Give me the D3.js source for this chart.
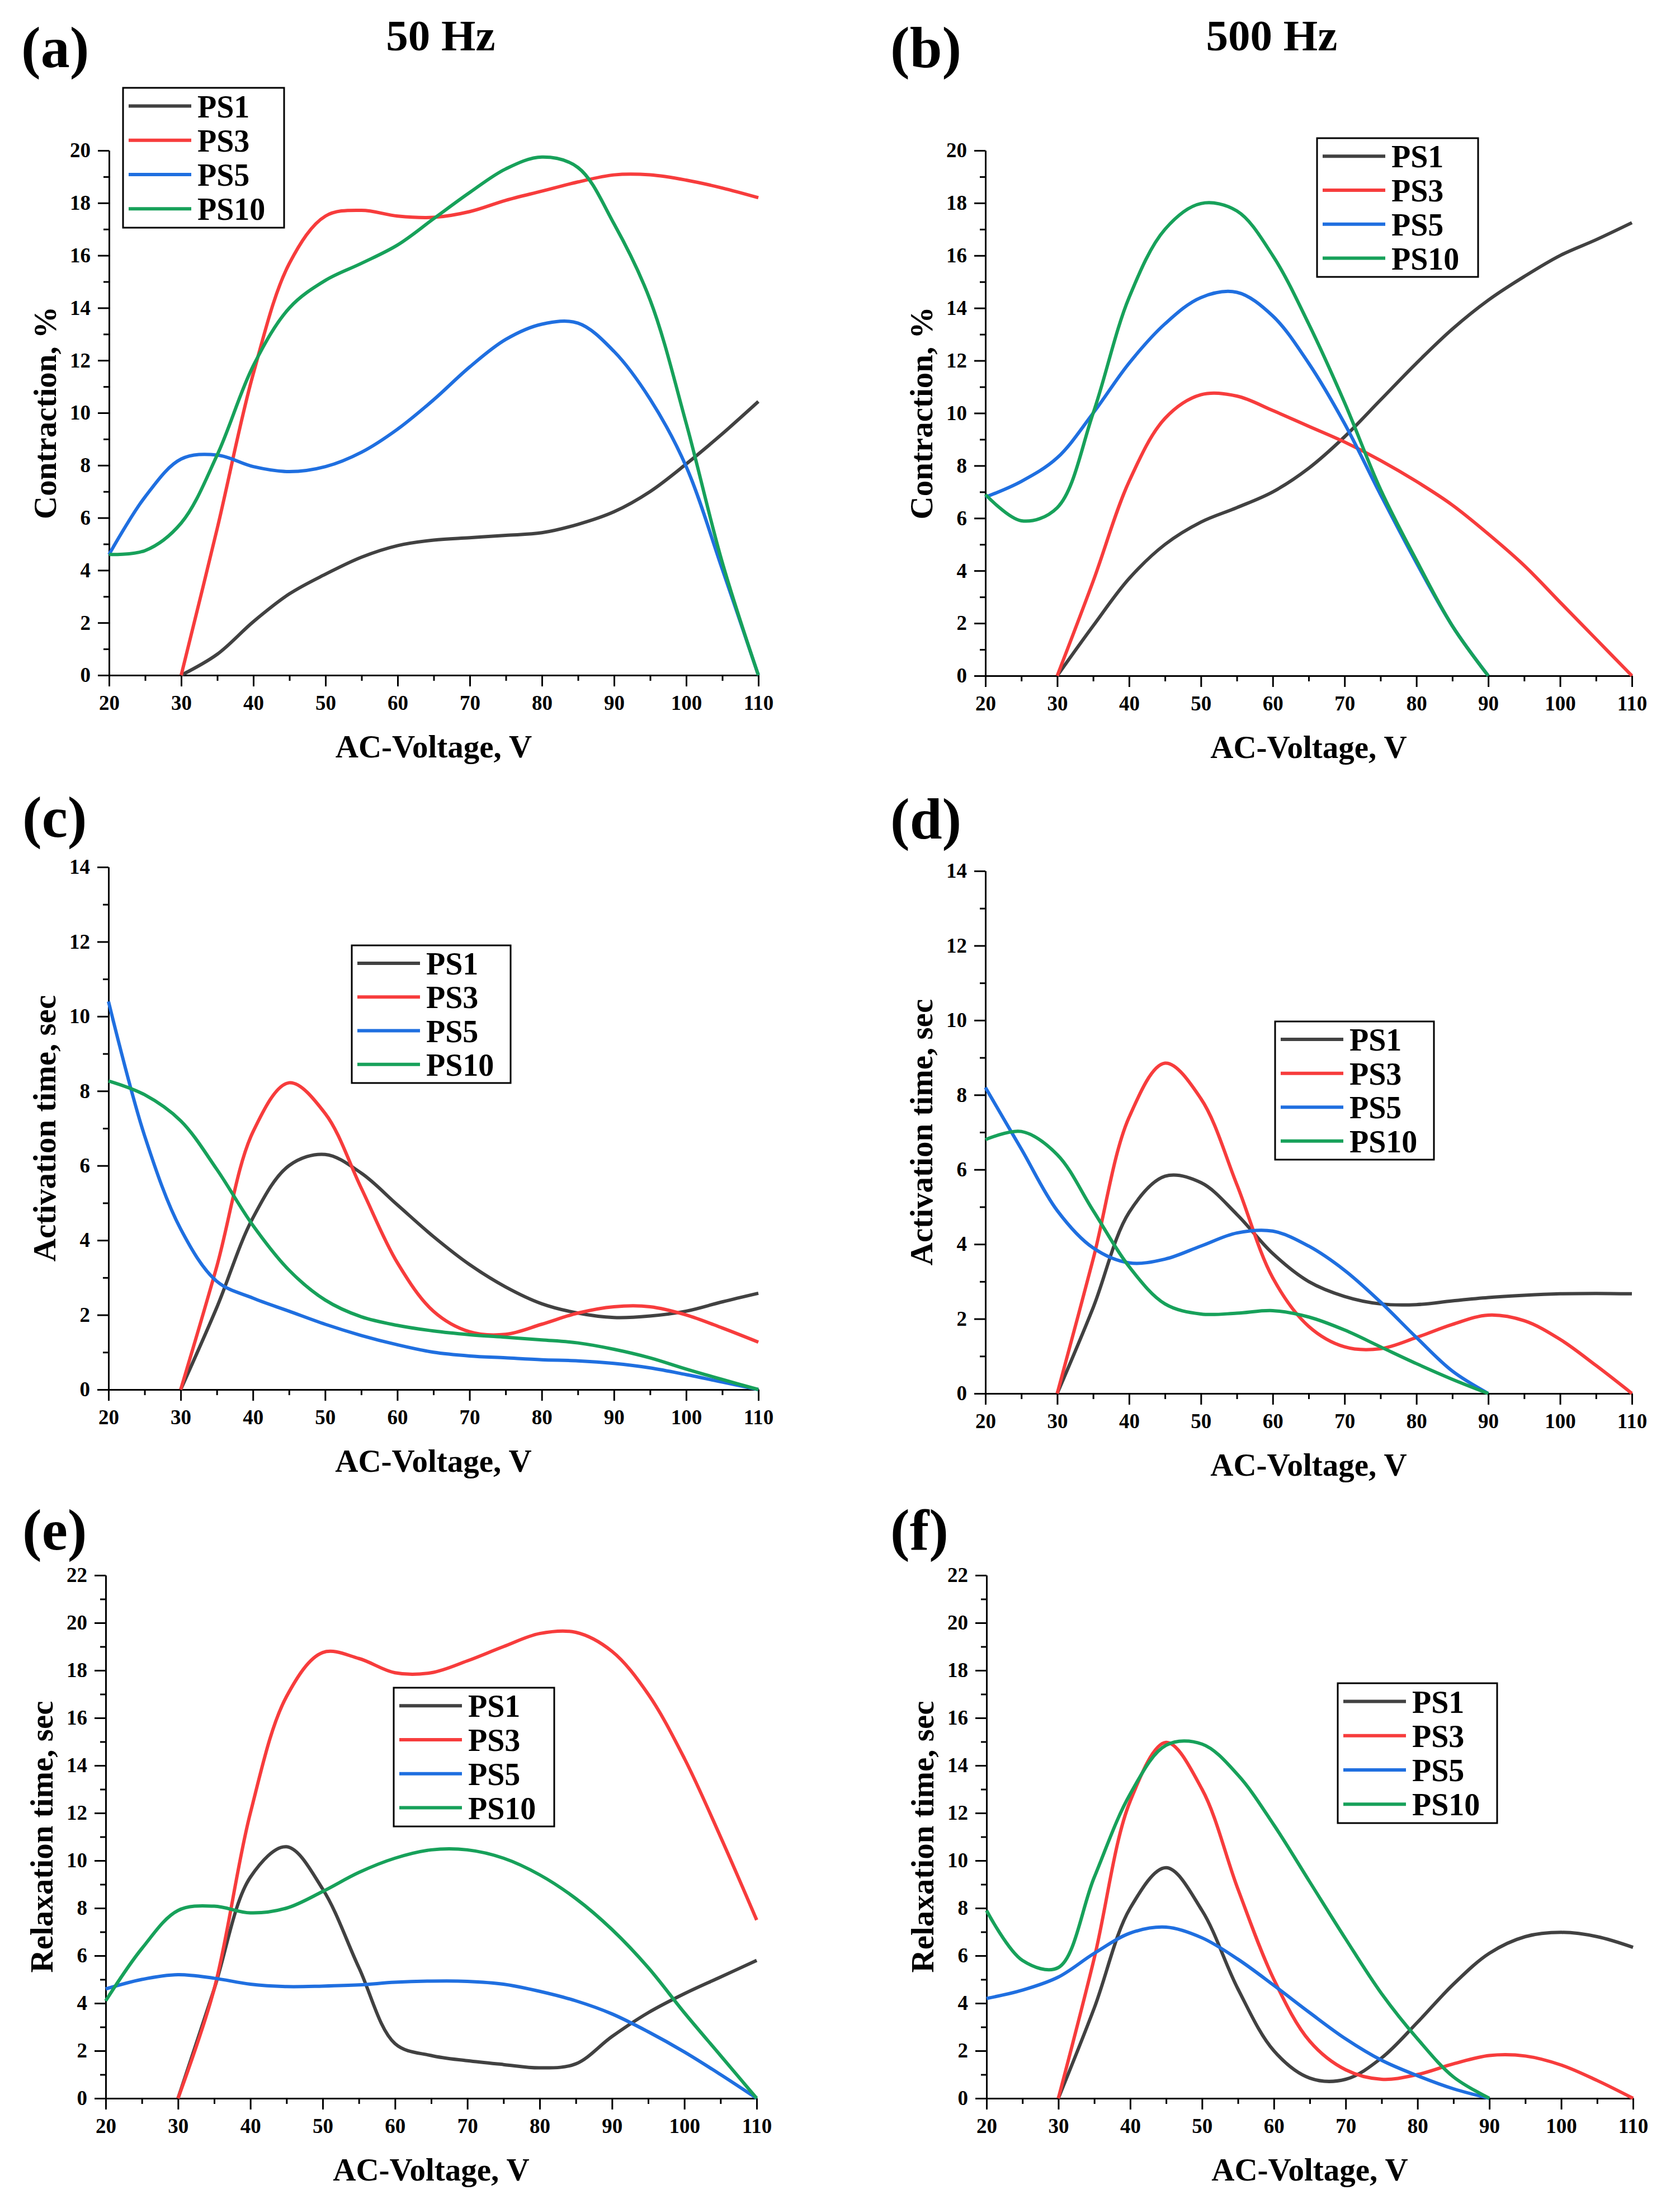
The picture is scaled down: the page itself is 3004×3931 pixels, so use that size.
<!DOCTYPE html>
<html>
<head>
  <meta charset="UTF-8"/>
  <title>PS samples vs AC-Voltage</title>
  <script src="https://cdn.jsdelivr.net/npm/d3@7"></script>
  <style>
    body { margin: 0; background: #fff; }
    svg text {
      font-family: 'Liberation Serif', 'Times New Roman', serif;
      font-weight: bold;
      fill: #000;
    }
    .axis path, .axis line { stroke: #000; stroke-width: 3; }
    .axis text { font-size: 37px; }
    .tag { font-size: 104px; }
    .title { font-size: 79px; }
    .label { font-size: 57px; }
    .legend text { font-size: 56px; }
  </style>
</head>
<body>
<svg id="chart" width="3004" height="3931"></svg>
<script>
var voltage = [20, 25, 30, 35, 40, 45, 50, 55, 60, 65, 70, 75, 80, 85, 90, 95, 100, 105, 110];

var seriesNames = ["PS1", "PS3", "PS5", "PS10"];
var seriesColors = ["#414141", "#f73c3c", "#1f6fe0", "#17a15a"];

var majorX = [20, 30, 40, 50, 60, 70, 80, 90, 100, 110];
var minorX = [25, 35, 45, 55, 65, 75, 85, 95, 105];

// (a) contraction, 50 Hz
var contr50_PS1 = [null, null, 0, 0.8, 2.04, 3.1, 3.85, 4.5, 4.94, 5.15, 5.24, 5.33, 5.43, 5.75, 6.23, 7.0, 8.05, 9.2, 10.43];
var contr50_PS3 = [null, null, 0, 5.6, 11.5, 15.7, 17.5, 17.72, 17.5, 17.45, 17.67, 18.1, 18.45, 18.8, 19.07, 19.07, 18.87, 18.57, 18.2];
var contr50_PS5 = [4.6, 6.8, 8.24, 8.39, 7.95, 7.76, 7.95, 8.5, 9.38, 10.5, 11.75, 12.8, 13.38, 13.42, 12.34, 10.52, 7.95, 4.04, 0];
var contr50_PS10 = [4.6, 4.75, 5.8, 8.4, 11.8, 14.0, 15.05, 15.7, 16.4, 17.4, 18.4, 19.3, 19.75, 19.35, 17.2, 14.3, 9.6, 4.3, 0];

// (b) contraction, 500 Hz
var contr500_PS1 = [null, null, 0, 1.9, 3.7, 5.0, 5.85, 6.4, 7.0, 7.9, 9.1, 10.5, 11.9, 13.2, 14.3, 15.2, 16.0, 16.6, 17.25];
var contr500_PS3 = [null, null, 0, 3.6, 7.4, 9.8, 10.7, 10.65, 10.1, 9.5, 8.9, 8.2, 7.4, 6.5, 5.4, 4.2, 2.8, 1.4, 0];
var contr500_PS5 = [6.8, 7.4, 8.3, 10.0, 11.9, 13.4, 14.4, 14.6, 13.7, 11.9, 9.6, 6.9, 4.3, 1.9, 0, null, null, null, null];
var contr500_PS10 = [6.9, 5.9, 6.4, 10.0, 14.4, 17.0, 17.98, 17.7, 16.0, 13.4, 10.4, 7.1, 4.4, 1.9, 0, null, null, null, null];

// (c) activation time, 50 Hz
var act50_PS1 = [null, null, 0, 2.2, 4.6, 6.0, 6.3, 5.8, 4.95, 4.1, 3.35, 2.75, 2.3, 2.05, 1.93, 1.97, 2.1, 2.35, 2.58];
var act50_PS3 = [null, null, 0, 3.3, 6.9, 8.22, 7.4, 5.4, 3.4, 2.1, 1.55, 1.48, 1.75, 2.05, 2.22, 2.22, 2.0, 1.65, 1.27];
var act50_PS5 = [10.4, 6.8, 4.3, 2.9, 2.45, 2.1, 1.75, 1.45, 1.2, 1.0, 0.9, 0.85, 0.8, 0.77, 0.7, 0.58, 0.4, 0.2, 0];
var act50_PS10 = [8.27, 7.9, 7.2, 5.9, 4.4, 3.2, 2.4, 1.95, 1.72, 1.57, 1.47, 1.4, 1.33, 1.25, 1.08, 0.85, 0.55, 0.27, 0];

// (d) activation time, 500 Hz
var act500_PS1 = [null, null, 0, 2.3, 4.85, 5.82, 5.65, 4.8, 3.75, 3.0, 2.6, 2.4, 2.38, 2.48, 2.57, 2.63, 2.67, 2.68, 2.67];
var act500_PS3 = [null, null, 0, 3.6, 7.4, 8.85, 7.9, 5.6, 3.1, 1.8, 1.25, 1.2, 1.5, 1.85, 2.1, 1.95, 1.45, 0.75, 0];
var act500_PS5 = [8.2, 6.55, 4.9, 3.9, 3.5, 3.6, 3.95, 4.3, 4.35, 3.95, 3.3, 2.45, 1.5, 0.6, 0, null, null, null, null];
var act500_PS10 = [6.8, 7.02, 6.4, 4.9, 3.4, 2.4, 2.13, 2.15, 2.22, 2.05, 1.7, 1.25, 0.8, 0.38, 0, null, null, null, null];

// (e) relaxation time, 50 Hz
var rel50_PS1 = [null, null, 0, 4.6, 9.3, 10.58, 8.8, 5.5, 2.3, 1.8, 1.58, 1.42, 1.28, 1.45, 2.6, 3.6, 4.4, 5.1, 5.8];
var rel50_PS3 = [null, null, 0, 4.6, 12.0, 16.9, 18.75, 18.5, 17.9, 17.9, 18.4, 19.0, 19.55, 19.6, 18.8, 17.0, 14.3, 11.0, 7.5];
var rel50_PS5 = [4.6, 5.0, 5.2, 5.05, 4.8, 4.7, 4.72, 4.77, 4.88, 4.93, 4.92, 4.8, 4.5, 4.1, 3.55, 2.8, 1.95, 1.0, 0];
var rel50_PS10 = [4.1, 6.3, 7.9, 8.08, 7.8, 8.0, 8.7, 9.5, 10.1, 10.45, 10.45, 10.1, 9.4, 8.4, 7.1, 5.5, 3.6, 1.8, 0];

// (f) relaxation time, 500 Hz
var rel500_PS1 = [null, null, 0, 3.8, 8.0, 9.7, 7.9, 4.6, 2.0, 0.85, 0.8, 1.7, 3.2, 4.8, 6.1, 6.8, 6.98, 6.8, 6.35];
var rel500_PS3 = [null, null, 0, 5.9, 12.5, 14.97, 13.0, 8.8, 5.0, 2.4, 1.2, 0.8, 1.0, 1.45, 1.8, 1.78, 1.4, 0.75, 0];
var rel500_PS5 = [4.2, 4.55, 5.1, 6.1, 6.95, 7.2, 6.75, 5.85, 4.75, 3.6, 2.5, 1.6, 0.95, 0.4, 0, null, null, null, null];
var rel500_PS10 = [7.9, 5.8, 5.5, 9.3, 12.8, 14.85, 14.9, 13.6, 11.5, 9.1, 6.7, 4.4, 2.5, 0.9, 0, null, null, null, null];

var panels = [
  { tag: "(a)", tagX: 38, tagY: 120, title: "50 Hz", titleX: 788,
    ylabel: "Contraction, %", ymax: 20,
    left: 195, right: 1356, top: 269, bottom: 1207, legend: [220, 157, 288, 250],
    series: [contr50_PS1, contr50_PS3, contr50_PS5, contr50_PS10] },
  { tag: "(b)", tagX: 1592, tagY: 120, title: "500 Hz", titleX: 2274,
    ylabel: "Contraction, %", ymax: 20,
    left: 1762, right: 2918, top: 269, bottom: 1208, legend: [2355, 247, 288, 248],
    series: [contr500_PS1, contr500_PS3, contr500_PS5, contr500_PS10] },
  { tag: "(c)", tagX: 40, tagY: 1496,
    ylabel: "Activation time, sec", ymax: 14,
    left: 194, right: 1356, top: 1550, bottom: 2484, legend: [629, 1690, 284, 246],
    series: [act50_PS1, act50_PS3, act50_PS5, act50_PS10] },
  { tag: "(d)", tagX: 1592, tagY: 1499,
    ylabel: "Activation time, sec", ymax: 14,
    left: 1762, right: 2918, top: 1557, bottom: 2491, legend: [2280, 1826, 284, 247],
    series: [act500_PS1, act500_PS3, act500_PS5, act500_PS10] },
  { tag: "(e)", tagX: 40, tagY: 2770,
    ylabel: "Relaxation time, sec", ymax: 22,
    left: 189, right: 1353, top: 2816, bottom: 3751, legend: [704, 3017, 287, 248],
    series: [rel50_PS1, rel50_PS3, rel50_PS5, rel50_PS10] },
  { tag: "(f)", tagX: 1592, tagY: 2770,
    ylabel: "Relaxation time, sec", ymax: 22,
    left: 1764, right: 2920, top: 2816, bottom: 3751, legend: [2392, 3009, 285, 250],
    series: [rel500_PS1, rel500_PS3, rel500_PS5, rel500_PS10] }
];

var svg = d3.select("#chart");
svg.append("rect").attr("width", 3004).attr("height", 3931).attr("fill", "#fff");

panels.forEach(function(p) {
  var x = d3.scaleLinear().domain([20, 110]).range([p.left, p.right]);
  var y = d3.scaleLinear().domain([0, p.ymax]).range([p.bottom, p.top]);

  var majorY = d3.range(0, p.ymax + 1, 2);
  var minorY = d3.range(1, p.ymax, 2);

  var g = svg.append("g");

  // minor ticks
  g.append("g").attr("class", "axis")
    .attr("transform", "translate(0," + p.bottom + ")")
    .call(d3.axisBottom(x).tickValues(minorX).tickSize(10).tickSizeOuter(0).tickFormat(""));
  g.append("g").attr("class", "axis")
    .attr("transform", "translate(" + p.left + ",0)")
    .call(d3.axisLeft(y).tickValues(minorY).tickSize(10).tickSizeOuter(0).tickFormat(""));

  // major ticks + labels
  g.append("g").attr("class", "axis")
    .attr("transform", "translate(0," + p.bottom + ")")
    .call(d3.axisBottom(x).tickValues(majorX).tickSize(20).tickSizeOuter(0).tickPadding(16));
  g.append("g").attr("class", "axis")
    .attr("transform", "translate(" + p.left + ",0)")
    .call(d3.axisLeft(y).tickValues(majorY).tickSize(20).tickSizeOuter(0).tickPadding(13));

  var line = d3.line()
    .defined(function(d) { return d[1] !== null; })
    .x(function(d) { return x(d[0]); })
    .y(function(d) { return y(d[1]); })
    .curve(d3.curveCatmullRom.alpha(0.5));

  p.series.forEach(function(vals, i) {
    var pts = voltage.map(function(v, j) { return [v, vals[j]]; });
    g.append("path")
      .attr("d", line(pts))
      .attr("fill", "none")
      .attr("stroke", seriesColors[i])
      .attr("stroke-width", 6)
      .attr("stroke-linejoin", "round");
  });

  // axis titles
  g.append("text").attr("class", "label")
    .attr("x", (p.left + p.right) / 2).attr("y", p.bottom + 147)
    .attr("text-anchor", "middle")
    .text("AC-Voltage, V");
  g.append("text").attr("class", "label")
    .attr("transform", "translate(" + (p.left - 95) + "," + ((p.top + p.bottom) / 2) + ") rotate(-90)")
    .attr("text-anchor", "middle")
    .text(p.ylabel);

  // legend
  var lg = g.append("g").attr("class", "legend");
  var b = p.legend;
  lg.append("rect")
    .attr("x", b[0]).attr("y", b[1]).attr("width", b[2]).attr("height", b[3])
    .attr("fill", "#fff").attr("stroke", "#000").attr("stroke-width", 3);
  seriesNames.forEach(function(name, i) {
    var cy = b[1] + b[3] * (0.13 + i * 0.245);
    lg.append("line")
      .attr("x1", b[0] + 10).attr("x2", b[0] + 122)
      .attr("y1", cy).attr("y2", cy)
      .attr("stroke", seriesColors[i]).attr("stroke-width", 6);
    lg.append("text")
      .attr("x", b[0] + 133).attr("y", cy).attr("dy", "0.36em")
      .text(name);
  });

  // panel tag and column title
  svg.append("text").attr("class", "tag")
    .attr("x", p.tagX).attr("y", p.tagY).text(p.tag);
  if (p.title) {
    svg.append("text").attr("class", "title")
      .attr("x", p.titleX).attr("y", 90)
      .attr("text-anchor", "middle")
      .text(p.title);
  }
});
</script>
</body>
</html>
